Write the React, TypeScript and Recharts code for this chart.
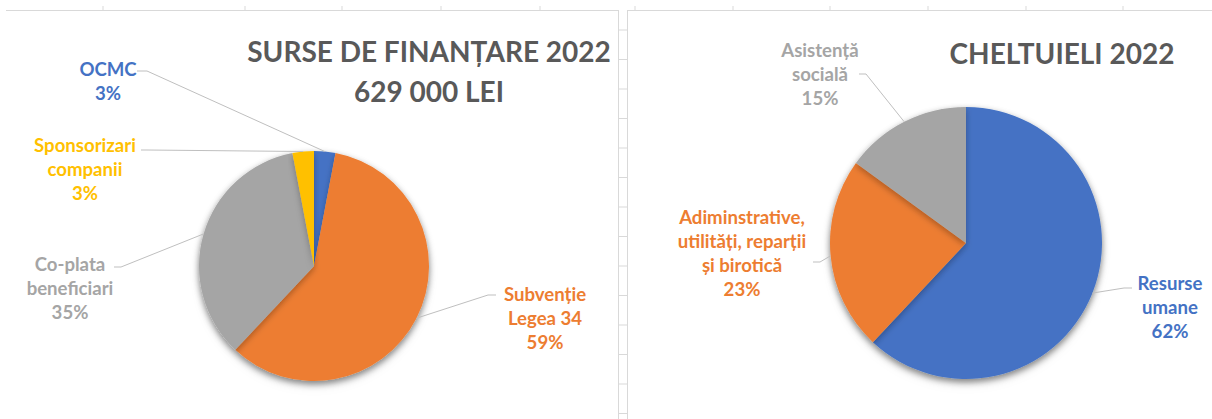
import React from "react";
import { Cell, Pie, PieChart } from "recharts";

// Surse de finanțare 2022 (clockwise from 12 o'clock)
const fundingNames = ["OCMC", "Subvenție\nLegea 34", "Co-plata\nbeneficiari", "Sponsorizari\ncompanii"];
const fundingShares = [3, 59, 35, 3];
const fundingColors = ["#4472C4", "#ED7D31", "#A5A5A5", "#FFC000"];

// Cheltuieli 2022
const spendNames = ["Resurse\numane", "Adiminstrative,\nutilități, reparții\nși birotică", "Asistență\nsocială"];
const spendShares = [62, 23, 15];
const spendColors = ["#4472C4", "#ED7D31", "#A5A5A5"];

const fundingData = fundingNames.map((name, i) => ({ name, value: fundingShares[i] }));
const spendData = spendNames.map((name, i) => ({ name, value: spendShares[i] }));

// label boxes (chart-local): text centre, first baseline, leader start + elbow
type LabelSpot = { x: number; y: number; from: [number, number]; elbow: [number, number] };

const fundingSpots: LabelSpot[] = [
  { x: 102, y: 66, from: [131, 61], elbow: [141, 61] },
  { x: 539, y: 291, from: [490, 285], elbow: [482, 285] },
  { x: 64, y: 261, from: [108, 257], elbow: [115, 257] },
  { x: 79, y: 142, from: [135, 140], elbow: [141, 140] },
];

const spendSpots: LabelSpot[] = [
  { x: 543, y: 280, from: [505, 278], elbow: [497, 278] },
  { x: 115, y: 214, from: [186, 252], elbow: [193, 252] },
  { x: 193, y: 47, from: [232, 64], elbow: [239, 64] },
];

const FONT = "Lato, 'Open Sans', sans-serif";
const RAD = Math.PI / 180;
// PieChart default margin is 5px, cx/cy are measured from inside it
const M = 5;

function makeLabel(spots: LabelSpot[], colors: string[]) {
  return (props: any) => {
    const { cx, cy, midAngle, outerRadius, index, name, value } = props;
    const spot = spots[index];
    const px = cx + outerRadius * Math.cos(-midAngle * RAD);
    const py = cy + outerRadius * Math.sin(-midAngle * RAD);
    const lines = String(name).split("\n").concat(`${value}%`);
    return (
      <g key={`lbl-${index}`}>
        <polyline
          points={`${spot.from[0]},${spot.from[1]} ${spot.elbow[0]},${spot.elbow[1]} ${px},${py}`}
          fill="none"
          stroke="#BFBFBF"
          strokeWidth={1}
        />
        <text
          x={spot.x}
          y={spot.y}
          textAnchor="middle"
          fill={colors[index]}
          fontFamily={FONT}
          fontWeight={700}
          fontSize={18.6}
        >
          {lines.map((ln, i) => (
            <tspan key={i} x={spot.x} dy={i === 0 ? 0 : 24}>
              {ln}
            </tspan>
          ))}
        </text>
      </g>
    );
  };
}

function ShadowDefs({ id }: { id: string }) {
  return (
    <defs>
      <filter id={id} x="-20%" y="-20%" width="140%" height="150%">
        <feDropShadow dx="0" dy="3" stdDeviation="3" floodColor="#000" floodOpacity="0.28" />
      </filter>
    </defs>
  );
}

const rowTicks = [30, 59.5, 89, 118.5, 148, 177.5, 207, 236.5, 266, 295.5, 325, 354.5, 384, 413.5];
const colTicks = [103, 245, 342, 441, 540, 635, 733, 830, 928, 1026, 1123];

export default function App() {
  return (
    <div
      style={{
        position: "absolute",
        left: 0,
        top: 0,
        width: 1212,
        height: 419,
        background: "#fff",
        overflow: "hidden",
      }}
    >
      <style>{`.shadow-left { filter: url(#pieShadowL); } .shadow-right { filter: url(#pieShadowR); }`}</style>

      {/* spreadsheet cell lines around the two chart boxes */}
      <svg width={1212} height={419} style={{ position: "absolute", left: 0, top: 0 }}>
        {colTicks.map((x) => (
          <line key={x} x1={x} y1={6} x2={x} y2={10} stroke="#D9D9D9" />
        ))}
        <line x1={6} y1={10.5} x2={618} y2={10.5} stroke="#D9D9D9" />
        <line x1={618.5} y1={10} x2={618.5} y2={419} stroke="#D9D9D9" />
        <line x1={627.5} y1={10} x2={627.5} y2={419} stroke="#D9D9D9" />
        <line x1={627} y1={10.5} x2={1212} y2={10.5} stroke="#D9D9D9" />
        {rowTicks.map((y) => (
          <line key={y} x1={618} y1={y} x2={627} y2={y} stroke="#D9D9D9" />
        ))}
      </svg>

      <div style={{ position: "absolute", left: 6, top: 10 }}>
        <PieChart width={612} height={409}>
          <ShadowDefs id="pieShadowL" />
          <Pie
            data={fundingData}
            dataKey="value"
            nameKey="name"
            cx={308 - M}
            cy={256 - M}
            outerRadius={115}
            startAngle={90}
            endAngle={-270}
            stroke="none"
            className="shadow-left"
            isAnimationActive={false}
          >
            {fundingData.map((d, i) => (
              <Cell key={d.name} fill={fundingColors[i]} />
            ))}
          </Pie>
          <Pie
            data={fundingData}
            dataKey="value"
            nameKey="name"
            cx={308 - M}
            cy={256 - M}
            outerRadius={115}
            startAngle={90}
            endAngle={-270}
            stroke="none"
            fill="transparent"
            labelLine={false}
            label={makeLabel(fundingSpots, fundingColors)}
            isAnimationActive={false}
          />
        </PieChart>
      </div>

      <div style={{ position: "absolute", left: 627, top: 10 }}>
        <PieChart width={585} height={409}>
          <ShadowDefs id="pieShadowR" />
          <Pie
            data={spendData}
            dataKey="value"
            nameKey="name"
            cx={339 - M}
            cy={233 - M}
            outerRadius={136}
            startAngle={90}
            endAngle={-270}
            stroke="none"
            className="shadow-right"
            isAnimationActive={false}
          >
            {spendData.map((d, i) => (
              <Cell key={d.name} fill={spendColors[i]} />
            ))}
          </Pie>
          <Pie
            data={spendData}
            dataKey="value"
            nameKey="name"
            cx={339 - M}
            cy={233 - M}
            outerRadius={136}
            startAngle={90}
            endAngle={-270}
            stroke="none"
            fill="transparent"
            labelLine={false}
            label={makeLabel(spendSpots, spendColors)}
            isAnimationActive={false}
          />
        </PieChart>
      </div>

      {/* titles */}
      <svg width={1212} height={419} style={{ position: "absolute", left: 0, top: 0, pointerEvents: "none" }}>
        <g fontFamily={FONT} fontWeight={700} fontSize={28} fill="#595959" textAnchor="middle">
          <text x={429} y={62}>SURSE DE FINANȚARE 2022</text>
          <text x={429} y={102}>629 000 LEI</text>
          <text x={1062} y={64}>CHELTUIELI 2022</text>
        </g>
      </svg>
    </div>
  );
}
